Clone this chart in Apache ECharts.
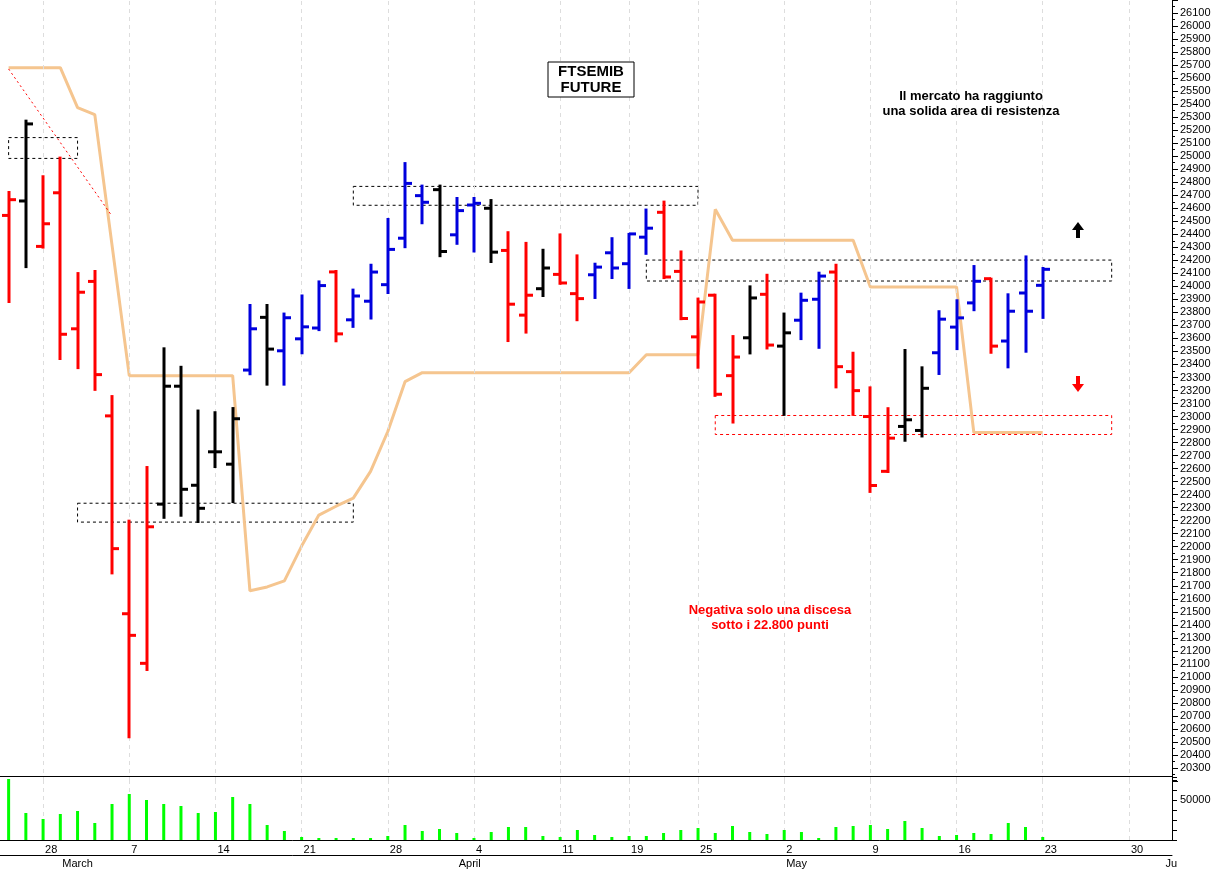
<!DOCTYPE html>
<html>
<head>
<meta charset="utf-8">
<script src="https://cdn.jsdelivr.net/npm/echarts@6/dist/echarts.min.js"></script>
<style>
  html, body { margin: 0; padding: 0; background: #fff; }
  #chart { width: 1222px; height: 870px; }
</style>
</head>
<body>
<div id="chart"></div>
<script>
// trading days (2022), plus empty slots up to June 1
var dates = ['02-24', '02-25', '02-28', '03-01', '03-02', '03-03', '03-04', '03-07', '03-08', '03-09',
    '03-10', '03-11', '03-14', '03-15', '03-16', '03-17', '03-18', '03-21', '03-22', '03-23',
    '03-24', '03-25', '03-28', '03-29', '03-30', '03-31', '04-01', '04-04', '04-05', '04-06',
    '04-07', '04-08', '04-11', '04-12', '04-13', '04-14', '04-19', '04-20', '04-21', '04-22',
    '04-25', '04-26', '04-27', '04-28', '04-29', '05-02', '05-03', '05-04', '05-05', '05-06',
    '05-09', '05-10', '05-11', '05-12', '05-13', '05-16', '05-17', '05-18', '05-19', '05-20',
    '05-23', '05-24', '05-25', '05-26', '05-27', '05-30', '05-31', '06-01'];
var dayLabels = { 2: '28', 7: '7', 12: '14', 17: '21', 22: '28', 27: '4', 32: '11', 36: '19', 40: '25', 45: '2', 50: '9', 55: '16', 60: '23', 65: '30' };
var monthLabels = { 3: 'March', 26: 'April', 45: 'May', 67: 'Ju' };

var opens  = [24545, 24656, 24307, 24719, 23674, 24038, 23005, 21485, 21104, 22327, 23233, 22472, 22729, 22634, 23357, 23762, 23505, 23597, 23680, 24111,
    23743, 23886, 24013, 24370, 24697, 24743, 24396, 24625, 24600, 24276, 23779, 23982, 24092, 23944, 24089, 24258, 24174, 24378, 24569, 24115,
    23612, 23932, 23314, 23605, 23939, 23541, 23740, 23901, 24110, 23345, 23000, 22579, 22924, 22893, 23490, 23687, 23873, 24059, 23580, 23949, 24008];
var highs  = [24725, 25273, 24846, 24989, 24102, 24118, 23157, 22200, 22612, 23524, 23382, 23046, 23033, 23065, 23857, 23857, 23791, 23930, 24038, 24118,
    23975, 24166, 24518, 24947, 24774, 24774, 24679, 24679, 24663, 24416, 24334, 24281, 24399, 24238, 24174, 24370, 24403, 24590, 24651, 24268,
    23906, 23936, 23618, 24000, 24089, 23791, 23944, 24105, 24166, 23490, 23224, 23064, 23511, 23378, 23809, 23893, 24156, 24059, 23939, 24230, 24141];
var lows   = [23880, 24148, 24298, 23442, 23372, 23205, 21795, 20536, 21053, 22222, 22238, 22190, 22612, 22343, 23325, 23245, 23245, 23486, 23664, 23578,
    23689, 23753, 23949, 24301, 24485, 24232, 24327, 24268, 24187, 23580, 23645, 23926, 24020, 23740, 23911, 24064, 23988, 24250, 24064, 23748,
    23375, 23159, 22954, 23485, 23523, 23013, 23595, 23528, 23224, 23013, 22421, 22574, 22814, 22847, 23327, 23518, 23817, 23490, 23378, 23498, 23758];
var closes = [24666, 25248, 24481, 23632, 23955, 23322, 21985, 21319, 22153, 23233, 22441, 22295, 22729, 22983, 23674, 23518, 23759, 23689, 24006, 23635,
    23926, 24110, 24284, 24791, 24646, 24268, 24582, 24638, 24263, 23863, 23932, 24141, 24026, 23906, 24148, 24141, 24403, 24447, 24072, 23753,
    23880, 23171, 23457, 23911, 23549, 23643, 23893, 24079, 23383, 23199, 22470, 22834, 22975, 23217, 23748, 23758, 24039, 23541, 23809, 23809, 24131];
// r = red, k = black, b = blue
var barColors = 'rkrrrrrrrkkkkkbkbbbrbbbbbkbbkrrkrrbbbbrrrrrkrkbbrrrrkkbbbrbbb';
var volumes = [76250, 33750, 26250, 32500, 36250, 21250, 45000, 57500, 50000, 45000, 42500, 33750, 35000, 53750, 45000, 18750, 11250, 3750, 2500, 2500,
    2500, 2500, 5000, 18750, 11250, 13750, 8750, 2500, 10000, 16250, 16250, 5000, 3750, 12500, 6250, 3750, 5000, 5000, 8750, 12500,
    15000, 8750, 17500, 10000, 7500, 12500, 10000, 2500, 16250, 17500, 18750, 13750, 23750, 15000, 5000, 6250, 8750, 7500, 21250, 16250, 3750];
var trendLine = [25680, 25680, 25680, 25680, 25373, 25319, 24317, 23314, 23314, 23314, 23314, 23314, 23314, 23314, 21661, 21691, 21737, 22005, 22243, 22311,
    22373, 22579, 22885, 23268, 23337, 23337, 23337, 23337, 23337, 23337, 23337, 23337, 23337, 23337, 23337, 23337, 23337, 23475, 23475, 23475,
    23475, 24592, 24355, 24355, 24355, 24355, 24355, 24355, 24355, 24355, 23995, 23995, 23995, 23995, 23995, 23995, 22878, 22878, 22878, 22878, 22878];
// dashed boxes: [fromIndex, toIndex, top, bottom, colour]
var boxes = [
    [-0.5, 4, 25143, 24983, '#000'],
    [4, 20, 22334, 22189, '#000'],
    [20, 40, 24768, 24623, '#000'],
    [37, 64, 24202, 24041, '#000'],
    [41, 64, 23008, 22862, '#ff0000']
];

var palette = { r: '#ff0000', k: '#000000', b: '#0000dd' };
var ohlc = opens.map(function (o, i) {
    return [i, o, highs[i], lows[i], closes[i], 'rkb'.indexOf(barColors[i])];
});
var colorList = [palette.r, palette.k, palette.b];

var chart = echarts.init(document.getElementById('chart'));

function renderOhlc(params, api) {
    var idx = api.value(0);
    var pO = api.coord([idx, api.value(1)]);
    var pH = api.coord([idx, api.value(2)]);
    var pL = api.coord([idx, api.value(3)]);
    var pC = api.coord([idx, api.value(4)]);
    var style = { stroke: colorList[api.value(5)], lineWidth: 3 };
    var x = Math.round(pH[0]);
    return {
        type: 'group',
        children: [
            { type: 'line', shape: { x1: x, y1: pH[1] - 1, x2: x, y2: pL[1] + 1 }, style: style },
            { type: 'line', shape: { x1: x - 7, y1: pO[1], x2: x, y2: pO[1] }, style: style },
            { type: 'line', shape: { x1: x, y1: pC[1], x2: x + 7, y2: pC[1] }, style: style }
        ]
    };
}

var weekIdx = Object.keys(dayLabels).map(Number);
function weekLines() {
    return {
        silent: true, symbol: 'none', label: { show: false },
        lineStyle: { color: '#ddd', type: [4, 4], width: 1 },
        data: weekIdx.map(function (i) { return { xAxis: i }; })
    };
}
var isWeek = function (i) { return dayLabels[i] !== undefined; };
var isMonth = function (i) { return monthLabels[i] !== undefined; };

var option = {
    animation: false,
    grid: [
        { left: 0, right: 50, top: -3, height: 784 },
        { left: 0, right: 50, top: 777, height: 63 }
    ],
    xAxis: [{
        type: 'category', gridIndex: 0, data: dates,
        axisLine: { show: false }, axisTick: { show: false }, axisLabel: { show: false }, splitLine: { show: false }
    }, {
        type: 'category', gridIndex: 1, data: dates,
        axisLine: { lineStyle: { color: '#000' } },
        axisTick: { interval: isWeek, alignWithLabel: true, length: 14, lineStyle: { color: '#000' } },
        axisLabel: {
            interval: isWeek, align: 'left', margin: 4, padding: [0, 0, 0, 2],
            color: '#000', fontFamily: 'Liberation Sans', fontSize: 11,
            formatter: function (v, i) { return dayLabels[i] || ''; }
        },
        splitLine: { show: false }
    }, {
        type: 'category', gridIndex: 1, data: dates, position: 'bottom', offset: 15,
        axisLine: { lineStyle: { color: '#000' } },
        axisTick: { interval: isMonth, alignWithLabel: true, length: 15, lineStyle: { color: '#000' } },
        axisLabel: {
            interval: isMonth, align: 'left', margin: 3, padding: [0, 0, 0, 2],
            color: '#000', fontFamily: 'Liberation Sans', fontSize: 11,
            formatter: function (v, i) { return monthLabels[i] || ''; }
        }
    }],
    yAxis: [{
        type: 'value', gridIndex: 0, position: 'right', min: 20200, max: 26200, interval: 100,
        axisLine: { show: true, lineStyle: { color: '#000' } },
        axisTick: { show: true, length: 6, lineStyle: { color: '#000' } },
        minorTick: { show: true, splitNumber: 2, length: 3, lineStyle: { color: '#000' } },
        splitLine: { show: false },
        axisLabel: {
            color: '#000', fontFamily: 'Liberation Sans', fontSize: 11, margin: 8,
            formatter: function (v) { return (v < 20300 || v > 26100) ? '' : v; }
        }
    }, {
        type: 'value', gridIndex: 1, position: 'right', min: 0, max: 78750, interval: 12500,
        axisLine: { show: true, lineStyle: { color: '#000' } },
        axisTick: { show: true, length: 5, lineStyle: { color: '#000' } },
        splitLine: { show: false },
        axisLabel: {
            color: '#000', fontFamily: 'Liberation Sans', fontSize: 11, margin: 8,
            formatter: function (v) { return v === 50000 ? '50000' : ''; }
        }
    }],
    series: [{
        name: 'grid', type: 'line', xAxisIndex: 0, yAxisIndex: 0, data: [], z: 0, markLine: weekLines()
    }, {
        name: 'vgrid', type: 'line', xAxisIndex: 1, yAxisIndex: 1, data: [], z: 0, markLine: weekLines()
    }, {
        name: 'trend', type: 'line', xAxisIndex: 0, yAxisIndex: 0, data: trendLine,
        symbol: 'none', lineStyle: { color: '#f5c58f', width: 3 }, z: 2,
        markArea: {
            silent: true,
            data: boxes.map(function (b) {
                return [{ coord: [b[0], b[2]], itemStyle: { color: 'rgba(0,0,0,0)', borderColor: b[4], borderWidth: 1, borderType: [3, 3] } },
                        { coord: [b[1], b[3]] }];
            })
        },
        markLine: {
            silent: true, symbol: 'none', label: { show: false },
            lineStyle: { color: '#ff0000', type: [2, 3], width: 1 },
            data: [[{ coord: [-0.5, 25670] }, { coord: [6, 24540] }]]
        }
    }, {
        name: 'price', type: 'custom', xAxisIndex: 0, yAxisIndex: 0,
        renderItem: renderOhlc, encode: { x: 0, y: [1, 2, 3, 4] }, data: ohlc, z: 10
    }, {
        name: 'volume', type: 'bar', xAxisIndex: 1, yAxisIndex: 1, data: volumes,
        barWidth: 3, itemStyle: { color: '#00ff00' }, z: 10
    }],
    graphic: [
        { type: 'line', z: 100, shape: { x1: 0, y1: 776.5, x2: 1172, y2: 776.5 }, style: { stroke: '#000', lineWidth: 1 } },
        { type: 'rect', z: 100, shape: { x: 548, y: 62, width: 86, height: 35 }, style: { fill: '#fff', stroke: '#000', lineWidth: 1 } },
        { type: 'text', z: 101, x: 591, y: 64, style: { text: 'FTSEMIB\nFUTURE', align: 'center', fill: '#000', font: 'bold 15px Liberation Sans', lineHeight: 16 } },
        { type: 'text', z: 101, x: 971, y: 89, style: { text: 'Il mercato ha raggiunto\nuna solida area di resistenza', align: 'center', fill: '#000', font: 'bold 13px Liberation Sans', lineHeight: 15 } },
        { type: 'text', z: 101, x: 770, y: 603, style: { text: 'Negativa solo una discesa\nsotto i 22.800 punti', align: 'center', fill: '#ff0000', font: 'bold 13px Liberation Sans', lineHeight: 15 } },
        { type: 'polygon', z: 101, shape: { points: [[1078, 222], [1072, 230], [1076, 230], [1076, 238], [1080, 238], [1080, 230], [1084, 230]] }, style: { fill: '#000' } },
        { type: 'polygon', z: 101, shape: { points: [[1078, 392], [1072, 384], [1076, 384], [1076, 376], [1080, 376], [1080, 384], [1084, 384]] }, style: { fill: '#ff0000' } }
    ]
};
chart.setOption(option);
</script>
</body>
</html>
